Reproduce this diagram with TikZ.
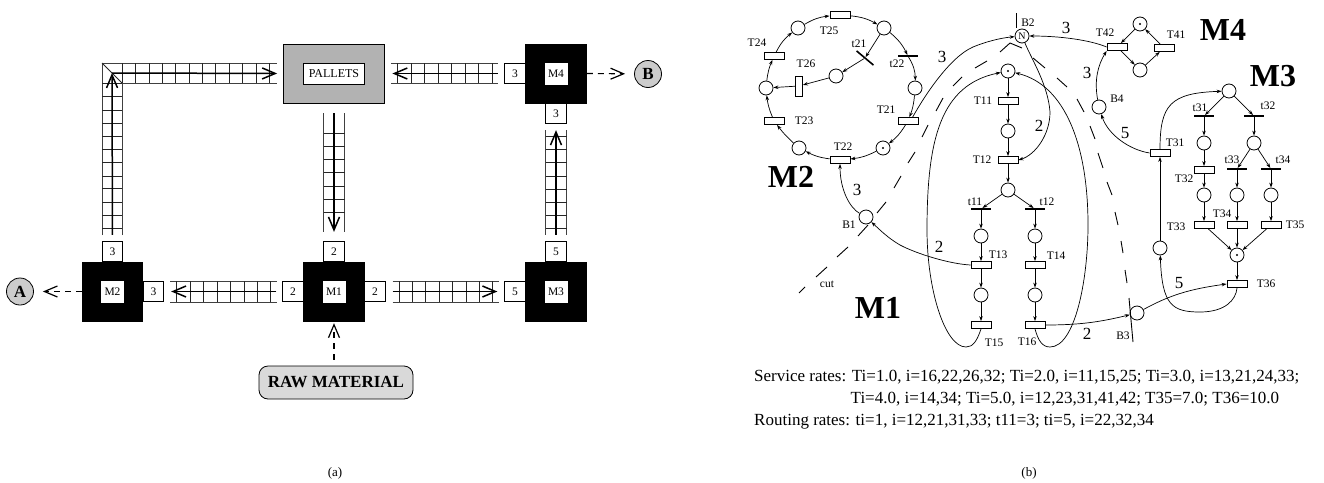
\documentclass[tikz,border=0pt]{standalone}
\usepackage{xcolor}
\usepackage{fontspec}
\setmainfont{Liberation Serif}
\usetikzlibrary{arrows.meta, positioning, shapes.geometric}
\tikzstyle{place} = [circle, draw=black, fill=white, line width=0.8pt, minimum size=14pt, inner sep=0pt, font=\fontsize{10}{10}\selectfont]
\tikzstyle{marked} = [place, path picture={\fill[black] (path picture bounding box.center) circle (1.2pt);}]
\tikzstyle{trans} = [rectangle, draw=black, fill=white, line width=0.8pt, minimum width=20pt, minimum height=7pt, inner sep=0pt]
\tikzstyle{bar} = [rectangle, fill=black, minimum width=20pt, minimum height=1.6pt, inner sep=0pt]
\tikzstyle{arc} = [line width=0.7pt, -{Stealth[length=5pt,width=3.5pt]}]

\begin{document}
\begin{tikzpicture}[
    x=1pt, y=-1pt, on grid,
    machine/.style={rectangle, fill=black, minimum width=61.5pt, minimum height=60pt, inner sep=0pt},
    machname/.style={rectangle, fill=white, minimum width=23pt, minimum height=22pt, inner sep=0pt, font=\fontsize{11.5}{12}\selectfont},
    port/.style={rectangle, draw=black, fill=white, line width=0.8pt, minimum size=20.5pt, inner sep=0pt, font=\fontsize{11.5}{12}\selectfont},
    exit/.style={circle, draw=black, fill=black!20, line width=0.8pt, minimum size=27pt, inner sep=0pt, font=\fontsize{17}{17}\bfseries},
    rail/.style={draw=black!75, line width=1pt},
    rung/.style={draw=black!85, line width=0.8pt},
    belt/.style={line width=1.5pt, -{Straight Barb[length=13pt,width=11pt,line width=1.5pt]}},
    flow/.style={line width=1.1pt, dashed, dash pattern=on 6pt off 5pt, -{Straight Barb[length=13pt,width=11pt,line width=1.2pt]}},
    lab/.style={inner sep=0pt, font=\fontsize{11.5}{12}\selectfont},
    weight/.style={inner sep=0pt, font=\fontsize{17}{17}\selectfont},
    big/.style={inner sep=0pt, font=\fontsize{32}{32}\bfseries},
    rates/.style={anchor=base west, inner sep=0pt, font=\fontsize{17}{17}\selectfont},
    cutline/.style={line width=0.9pt}
]
\useasboundingbox (0,0) rectangle (1324,482);

% Plant
\node (pallets) [rectangle, draw=black, fill=black!30, line width=0.8pt, minimum width=101pt, minimum height=59pt] at (334,73.5) {};
\node (palletsname) [rectangle, draw=black, fill=white, line width=0.8pt, minimum width=61pt, minimum height=21pt, inner sep=0pt, font=\fontsize{12}{12}\selectfont] at (pallets) {PALLETS};
\node (m1) [machine] at (334,291.5) {};
\node (m2) [machine] at (112.5,291.5) {};
\node (m3) [machine] at (556,291.5) {};
\node (m4) [machine] at (556,73.5) {};
\node (m1name) [machname] at (m1) {M1};
\node (m2name) [machname] at (m2) {M2};
\node (m3name) [machname] at (m3) {M3};
\node (m4name) [machname] at (m4) {M4};
\node (m1n) [port, above=40pt of m1] {2};
\node (m1w) [port, left=41pt of m1] {2};
\node (m1e) [port, right=41pt of m1] {2};
\node (m2n) [port, above=40pt of m2] {3};
\node (m2e) [port, right=41pt of m2] {3};
\node (m3n) [port, above=40pt of m3] {5};
\node (m3w) [port, left=41pt of m3] {5};
\node (m4w) [port, left=41pt of m4] {3};
\node (m4s) [port, below=40pt of m4] {3};
\node (exitA) [exit] at (20,291.5) {A};
\node (exitB) [exit] at (648,74) {B};
\node (raw) [rectangle, rounded corners=9pt, draw=black, fill=black!15, line width=0.8pt, minimum width=154pt, minimum height=33pt, inner sep=0pt, font=\fontsize{17}{17}\bfseries] at (336,382.5) {RAW MATERIAL};
\coordinate (corner) at (112,73);

% Conveyor grids
\draw [rail] (102,235) -- (102,63) -- (277,63);
\draw [rail] (122,235) -- (122,83) -- (277,83);
\draw [rung] (102,63) -- (122,83);
\foreach \x in {135.7,149,162.3,175.7,189,202.3,215.7,229,242.3,256.7,269.3}
    \draw [rung] (\x,63) -- (\x,83);
\draw [rung] (122,63) -- (122,83);
\foreach \y in {83,96.7,110,123,136,149,162.7,176,188.7,202,215.3,228.3}
    \draw [rung] (102,\y) -- (122,\y);
\draw [rail] (323.5,113) -- (323.5,232);
\draw [rail] (344.5,113) -- (344.5,232);
\foreach \y in {133,146,159,172.7,186,199,212.7}
    \draw [rung] (323.5,\y) -- (344.5,\y);
\draw [rail] (545.5,130) -- (545.5,235);
\draw [rail] (566.5,130) -- (566.5,235);
\foreach \y in {136,149,162.7,176,189,202.7,215,228}
    \draw [rung] (545.5,\y) -- (566.5,\y);
\draw [rail] (391,63) -- (498,63);
\draw [rail] (391,83) -- (498,83);
\foreach \x in {397,411,424,438,451,465,478,492}
    \draw [rung] (\x,63) -- (\x,83);
\draw [rail] (170,281) -- (277,281);
\draw [rail] (170,302) -- (277,302);
\foreach \x in {176,190,203.5,217,230.5,244,257.4,270.4}
    \draw [rung] (\x,281) -- (\x,302);
\draw [rail] (392.5,281) -- (499,281);
\draw [rail] (392.5,302) -- (499,302);
\foreach \x in {399,412,425.6,439,452.6,466,479.6,492.6}
    \draw [rung] (\x,281) -- (\x,302);

% Plant flows
\draw [belt, shorten <=6pt] (m2n.north) -- (corner);
\draw [belt, shorten >=6pt] (corner) -- (pallets.west);
\draw [belt, shorten <=10pt, shorten >=9pt] (pallets.south) -- (m1n.north);
\draw [belt, shorten <=6.5pt, shorten >=7.5pt] (m4w.west) -- (pallets.east);
\draw [belt, shorten <=6pt, shorten >=6pt] (m3n.north) -- (m4s.south);
\draw [belt, shorten <=6pt, shorten >=7pt] (m1w.west) -- (m2e.east);
\draw [belt, shorten <=7pt, shorten >=7pt] (m1e.east) -- (m3w.west);
\draw [flow, shorten >=9pt] (m2.west) -- (exitA);
\draw [flow, shorten >=9pt] (m4.east) -- (exitB);
\draw [flow, shorten <=6pt, shorten >=1.5pt] (raw.north -| m1.south) -- (m1.south);

% M2 ring
\node (T25) [trans] at (840,15) {};
\node (p21) [place] at (798,28) {};
\node (p22) [place] at (884,28) {};
\node (t22) [bar] at (908,56) {};
\node (t21) [bar, minimum width=22pt, rotate=-40] at (865,58) {};
\node (p23) [place] at (915,88) {};
\node (T21) [trans] at (908,121) {};
\node (p24) [marked] at (883,148) {};
\node (T22) [trans] at (840,160) {};
\node (p25) [place] at (799,148) {};
\node (T23) [trans] at (774,121) {};
\node (p26) [place] at (766,88) {};
\node (T24) [trans] at (774,56) {};
\node (p27) [place] at (836,76) {};
\node (T26) [trans, rotate=90] at (799,86) {};

% M1 columns
\node (p11) [marked] at (1008,71) {};
\node (T11) [trans, below=30pt of p11] {};
\node (p12) [place, below=30pt of T11] {};
\node (T12) [trans, below=29pt of p12] {};
\node (p13) [place, below=30pt of T12] {};
\node (t11) [bar, below left=19pt and 27pt of p13] {};
\node (t12) [bar, below right=19pt and 27pt of p13] {};
\node (p14) [place, below=27pt of t11] {};
\node (p15) [place, below=27pt of t12] {};
\node (T13) [trans, below=29pt of p14] {};
\node (T14) [trans, below=29pt of p15] {};
\node (p16) [place, below=30pt of T13] {};
\node (p17) [place, below=30pt of T14] {};
\node (T15) [trans, below=30pt of p16] {};
\node (T16) [trans, below=30pt of p17] {};

% M3 columns
\node (p31) [place] at (1229,91) {};
\node (t31) [bar, below left=25pt and 25pt of p31] {};
\node (t32) [bar, below right=25pt and 25pt of p31] {};
\node (p32) [place, below=27pt of t31] {};
\node (p33) [place, below=27pt of t32] {};
\node (T32) [trans, below=27pt of p32] {};
\node (t33) [bar, below left=26pt and 17pt of p33] {};
\node (t34) [bar, below right=26pt and 17pt of p33] {};
\node (p34) [place, below=25pt of T32] {};
\node (p35) [place, below=26pt of t33] {};
\node (p36) [place, below=26pt of t34] {};
\node (T33) [trans, below=30pt of p34] {};
\node (T34) [trans, below=30pt of p35] {};
\node (T35) [trans, below=30pt of p36] {};
\node (p37) [marked, below=30pt of T34] {};
\node (T36) [trans, below=29pt of p37] {};
\node (T31) [trans] at (1160,153) {};
\node (p38) [place] at (1160,248) {};

% M4 ring
\node (p41) [marked] at (1140,24) {};
\node (T42) [trans, below left=23pt and 23pt of p41] {};
\node (T41) [trans, below right=24pt and 24pt of p41] {};
\node (p42) [place, below=46pt of p41] {};

% Buffers
\node (B1) [place] at (866,217) {};
\node (B2) [place] at (1022,36) {N};
\node (B3) [place] at (1137,313) {};
\node (B4) [place] at (1099,107) {};

% Arcs
\draw [arc] (p21) to[bend left=12] (T25);
\draw [arc] (T25) to[bend left=12] (p22);
\draw [arc] (p22) to[bend left=12] (t22);
\draw [arc] (t22) to[bend left=15] (p23);
\draw [arc] (p23) to[bend left=8] (T21);
\draw [arc] (T21) to[bend left=10] (p24);
\draw [arc] (p24) to[bend left=10] (T22);
\draw [arc] (T22) to[bend left=10] (p25);
\draw [arc] (p25) to[bend left=5] (T23);
\draw [arc] (T23) to[bend left=8] (p26);
\draw [arc] (p26) to[bend left=8] (T24);
\draw [arc] (T24) to[bend left=12] (p21);
\draw [arc] (p22) -- (t21);
\draw [arc] (t21) -- (p27);
\draw [arc] (p27) -- (T26);
\draw [arc] (T26) -- (p26);
\draw [arc] (p11) -- (T11);
\draw [arc] (T11) -- (p12);
\draw [arc] (p12) -- (T12);
\draw [arc] (T12) -- (p13);
\draw [arc] (p13) -- (t11);
\draw [arc] (p13) -- (t12);
\draw [arc] (t11) -- (p14);
\draw [arc] (t12) -- (p15);
\draw [arc] (p14) -- (T13);
\draw [arc] (p15) -- (T14);
\draw [arc] (T13) -- (p16);
\draw [arc] (T14) -- (p17);
\draw [arc] (p16) -- (T15);
\draw [arc] (p17) -- (T16);
\draw [arc] (p31) -- (t31);
\draw [arc] (p31) -- (t32);
\draw [arc] (t31) -- (p32);
\draw [arc] (t32) -- (p33);
\draw [arc] (p32) -- (T32);
\draw [arc] (p33) -- (t33);
\draw [arc] (p33) -- (t34);
\draw [arc] (T32) -- (p34);
\draw [arc] (t33) -- (p35);
\draw [arc] (t34) -- (p36);
\draw [arc] (p34) -- (T33);
\draw [arc] (p35) -- (T34);
\draw [arc] (p36) -- (T35);
\draw [arc] (T33) -- (p37);
\draw [arc] (T34) -- (p37);
\draw [arc] (T35) -- (p37);
\draw [arc] (p37) -- (T36);
\draw [arc] (p38) -- (T31);
\draw [arc] (p41) -- (T42);
\draw [arc] (T42) -- (p42);
\draw [arc] (p42) -- (T41);
\draw [arc] (T41) -- (p41);

% Long arcs
\draw [arc] (T21.40) .. controls (925,95) and (950,57) .. (973,47) .. controls (985,42) and (1000,38) .. (B2);
\draw [arc] (T13.west) .. controls (950,264) and (917,254) .. (900,245) .. controls (888,238) and (880,230) .. (B1);
\draw [arc] (B1) .. controls (850,208) and (840,190) .. (T22.south);
\draw [arc] (B2) .. controls (1032,60) and (1048,85) .. (1050,112) .. controls (1050,135) and (1035,155) .. (T12.east);
\draw [arc] (T15.south) .. controls (977,341) and (973,347) .. (966,347) .. controls (945,347) and (927,290) .. (927,230) .. controls (927,140) and (940,85) .. (p11);
\draw [arc] (T16.south) .. controls (1038,340) and (1042,347) .. (1050,347) .. controls (1075,347) and (1088,280) .. (1088,225) .. controls (1088,145) and (1065,85) .. (p11);
\draw [arc] (T31.north) .. controls (1160,105) and (1170,93) .. (p31);
\draw [arc] (T31.west) .. controls (1130,150) and (1108,135) .. (B4);
\draw [arc] (B4) .. controls (1094,80) and (1098,65) .. (T42.south west);
\draw [arc] (T42.west) .. controls (1090,40) and (1060,36) .. (B2);
\draw [arc] (T36.south) .. controls (1236,300) and (1225,312) .. (1200,312) .. controls (1172,312) and (1162,305) .. (p38);
\draw [arc] (B3) .. controls (1170,295) and (1190,289) .. (T36.west);
\draw [arc] (T16.east) .. controls (1080,325) and (1100,322) .. (B3);

% Cut
\foreach \xa/\ya/\xb/\yb in {799/293/805/287, 816/277/827/267, 837/257/848/247, 858/236/868/225, 877/213/886/202, 894/188/901/176, 908/163/915/152, 922/137/928/125, 936/111/943/98, 953/86/962/77, 975/68/987/61, 1000/52/1010/43, 1016/13/1016/28, 1010/43/1022/48, 1033/58/1045/68, 1057/78/1067/87, 1077/99/1084/112, 1090/126/1095/139, 1098/153/1103/168, 1107/182/1112/195, 1115/212/1118/225, 1121/241/1123/253, 1125/270/1127/283, 1129/298/1133/342}
    \draw [cutline] (\xa,\ya) -- (\xb,\yb);

% Labels
\node (lT25) [lab] at (829,31) {T25};
\node (lt21) [lab] at (859,44) {t21};
\node (lt22) [lab] at (897,64) {t22};
\node (lT24) [lab] at (757,43) {T24};
\node (lT26) [lab] at (806,64) {T26};
\node (lT21) [lab] at (886,110) {T21};
\node (lT23) [lab] at (804,121) {T23};
\node (lT22) [lab] at (843,147) {T22};
\node (lT11) [lab] at (983,101) {T11};
\node (lT12) [lab] at (982,160) {T12};
\node (lt11) [lab] at (975,202) {t11};
\node (lt12) [lab] at (1047,202) {t12};
\node (lT13) [lab] at (998,255) {T13};
\node (lT14) [lab] at (1056,256) {T14};
\node (lT15) [lab] at (994,343) {T15};
\node (lT16) [lab] at (1027,342) {T16};
\node (lT41) [lab] at (1176,35) {T41};
\node (lT42) [lab] at (1105,33) {T42};
\node (lT31) [lab] at (1175,143) {T31};
\node (lt31) [lab] at (1200,108) {t31};
\node (lt32) [lab] at (1268,106) {t32};
\node (lT32) [lab] at (1184,179) {T32};
\node (lt33) [lab] at (1232,160) {t33};
\node (lt34) [lab] at (1283,160) {t34};
\node (lT33) [lab] at (1176,227) {T33};
\node (lT34) [lab] at (1222,214) {T34};
\node (lT35) [lab] at (1295,225) {T35};
\node (lT36) [lab] at (1266,284) {T36};
\node (lB1) [lab] at (849,225) {B1};
\node (lB2) [lab] at (1028,23) {B2};
\node (lB3) [lab] at (1123,336) {B3};
\node (lB4) [lab] at (1117,99) {B4};
\node (lcut) [lab] at (827,284) {cut};
\node (w1) [weight] at (857,190) {3};
\node (w2) [weight] at (942,57) {3};
\node (w3) [weight] at (1066,28) {3};
\node (w4) [weight] at (1087,73) {3};
\node (w5) [weight] at (1039,126) {2};
\node (w6) [weight] at (939,247) {2};
\node (w7) [weight] at (1087,334) {2};
\node (w8) [weight] at (1125,133) {5};
\node (w9) [weight] at (1179,283) {5};
\node (lM1) [big] at (878,308) {M1};
\node (lM2) [big] at (791,177) {M2};
\node (lM3) [big] at (1273,76) {M3};
\node (lM4) [big] at (1223,30) {M4};
\node (rates1) [rates] at (754,381) {Service rates: Ti=1.0, i=16,22,26,32; Ti=2.0, i=11,15,25; Ti=3.0, i=13,21,24,33;};
\node (rates2) [rates] at (850.5,403) {Ti=4.0, i=14,34; Ti=5.0, i=12,23,31,41,42; T35=7.0; T36=10.0};
\node (rates3) [rates] at (754,425) {Routing rates: ti=1, i=12,21,31,33; t11=3; ti=5, i=22,32,34};
\node (capa) [lab, font=\fontsize{13}{13}\selectfont] at (335,473) {(a)};
\node (capb) [lab, font=\fontsize{13}{13}\selectfont] at (1029,473) {(b)};

\end{tikzpicture}
\end{document}
